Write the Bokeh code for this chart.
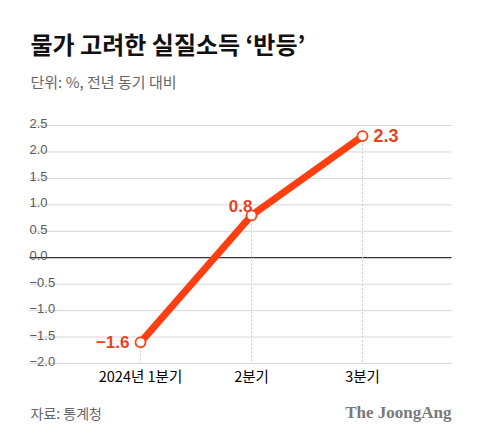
from bokeh.plotting import figure
from bokeh.core.properties import value
from bokeh.embed import file_html
from bokeh.resources import INLINE

# ---- data ----
categories = ["2024년 1분기", "2분기", "3분기"]
values = [-1.6, 0.8, 2.3]
y_ticks = [-2.0, -1.5, -1.0, -0.5, 0.0, 0.5, 1.0, 1.5, 2.0, 2.5]
title_text = "물가 고려한 실질소득 ‘반등’"
subtitle_text = "단위: %, 전년 동기 대비"
source_text = "자료: 통계청"
logo_text = "The JoongAng"

W, H = 464, 423
# pixel geometry (canvas px)
X0_PX, X_PPU = 140.0, 111.0
Y_TOP_TICK_PX, Y_BOT_TICK_PX = 125.0, 363.0
Y_PPU = (Y_BOT_TICK_PX - Y_TOP_TICK_PX) / (max(y_ticks) - min(y_ticks))

x_start = -X0_PX / X_PPU
x_end = (W - X0_PX) / X_PPU
y_end = max(y_ticks) + Y_TOP_TICK_PX / Y_PPU
y_start = min(y_ticks) - (H - Y_BOT_TICK_PX) / Y_PPU


def X(sx):  # canvas px -> data x
    return (sx - X0_PX) / X_PPU


def Y(sy):  # canvas px -> data y
    return max(y_ticks) - (sy - Y_TOP_TICK_PX) / Y_PPU


p = figure(width=W, height=H, output_backend="svg", toolbar_location=None,
           x_range=(x_start, x_end), y_range=(y_start, y_end),
           min_border=0, min_border_left=0, min_border_right=0,
           min_border_top=0, min_border_bottom=0)
p.axis.visible = False
p.grid.visible = False
p.outline_line_color = None
p.background_fill_color = "white"
p.border_fill_color = "white"

xs = list(range(len(values)))
KFONT = value("Noto Sans CJK KR")
NFONT = value("Liberation Sans")

# gridlines
grid_y = [t for t in y_ticks if t != 0]
p.segment(x0=[X(29)] * len(grid_y), x1=[X(451)] * len(grid_y), y0=grid_y, y1=grid_y,
          line_color="#d6d6d6", line_width=1)
p.segment(x0=[X(29)], x1=[X(451)], y0=[0.0], y1=[0.0], line_color="#333333", line_width=1.3)

# tick labels
tick_txt = [f"{t:.1f}".replace("-", "−") for t in y_ticks]
p.text(x=[X(29)] * len(y_ticks), y=y_ticks, text=tick_txt, text_font=NFONT,
       text_font_size="13px", text_color="#5a5a5a", text_align="left",
       text_baseline="alphabetic", y_offset=-2)

# vertical dotted guides
p.segment(x0=xs, x1=xs, y0=values, y1=[min(y_ticks)] * len(xs),
          line_color="#cccccc", line_width=1, line_dash="2 2")

# main line
LINE_C = "#ff3f12"
p.line(xs, values, line_color=LINE_C, line_width=7)
p.scatter(xs, values, size=10, fill_color="white", line_color=LINE_C, line_width=1.8)

# data labels
LAB_C = "#e8431f"
lbl = [f"{v:.1f}".replace("-", "−") for v in values]
p.text(x=[xs[0]], y=[values[0]], text=[lbl[0]], text_font=NFONT, text_font_style="bold",
       text_font_size="17px", text_color=LAB_C, text_align="right",
       text_baseline="middle", x_offset=-11, y_offset=0)
p.text(x=[xs[1]], y=[values[1]], text=[lbl[1]], text_font=NFONT, text_font_style="bold",
       text_font_size="17px", text_color=LAB_C, text_align="right",
       text_baseline="alphabetic", x_offset=1, y_offset=-9)
p.text(x=[xs[2]], y=[values[2]], text=[lbl[2]], text_font=NFONT, text_font_style="bold",
       text_font_size="18px", text_color=LAB_C, text_align="left",
       text_baseline="middle", x_offset=11, y_offset=-1)

# x category labels
p.text(x=xs, y=[min(y_ticks)] * len(xs), text=categories, text_font=KFONT,
       text_font_size="14.5px", text_color="#000000", text_align="center",
       text_baseline="middle", y_offset=12)

# title, subtitle, source, logo
p.text(x=[X(30)], y=[Y(43)], text=[title_text], text_font=KFONT,
       text_font_style="bold",
       text_font_size="24px", text_color="#111111", text_align="left", text_baseline="middle")
p.text(x=[X(30)], y=[Y(81)], text=[subtitle_text], text_font=KFONT,
       text_font_size="15px", text_color="#666666", text_align="left", text_baseline="middle")
p.text(x=[X(30)], y=[Y(412)], text=[source_text], text_font=KFONT,
       text_font_size="14px", text_color="#666666", text_align="left", text_baseline="middle")
p.text(x=[X(451)], y=[Y(412)], text=[logo_text], text_font=value("Liberation Serif"),
       text_font_style="bold", text_font_size="17px", text_color="#7a7a7a",
       text_align="right", text_baseline="middle")

open("out.html", "w").write(file_html(p, INLINE))
